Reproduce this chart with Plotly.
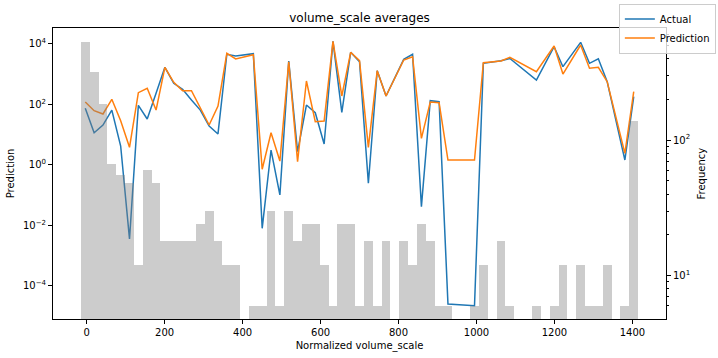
import plotly.graph_objects as go

# ---- data ----
bin_start = -15.0
bin_width = 22.694
hist_counts = [530, 321, 184, 67, 55, 48, 12, 60, 48, 18,
               18, 18, 18, 24, 30, 18, 12, 12, 0, 6,
               6, 30, 6, 30, 18, 24, 24, 12, 6, 24,
               24, 6, 18, 6, 18, 0, 18, 12, 24, 18,
               6, 6, 0, 0, 6, 12, 0, 18, 6, 0,
               0, 6, 0, 6, 12, 0, 12, 6, 6, 12,
               0, 6, 138]

line_x = [-3.7, 19.0, 41.7, 64.4, 87.1, 109.8, 132.5, 155.2, 177.9, 200.6,
          223.3, 246.0, 268.7, 291.4, 314.1, 336.8, 359.5, 382.2, 427.5, 450.2,
          472.9, 495.6, 518.3, 541.0, 563.7, 586.4, 609.1, 631.8, 654.5, 677.2,
          699.9, 722.6, 745.3, 768.0, 813.3, 836.0, 858.7, 881.4, 904.1, 926.8,
          994.9, 1017.6, 1063.0, 1085.7, 1153.7, 1199.1, 1221.8, 1267.2, 1289.9, 1312.6,
          1335.3, 1380.7, 1403.4]

actual = [73, 11.4, 20.5, 64, 4.15, 0.0035, 92, 32.4, 229, 1660,
          490, 309, 138, 64, 19, 10.4, 4470, 3920, 4680, 0.0079,
          3.06, 0.1, 2680, 2.69, 94, 52.4, 4.83, 12000, 54, 5200,
          2540, 0.243, 1280, 187, 3050, 4470, 0.041, 131, 121, 2.48e-5,
          2.18e-5, 2250, 2740, 3240, 631, 7960, 1740, 11100, 2250, 3190,
          555, 1.43, 177]

prediction = [118, 61, 47.4, 145, 28.5, 3.76, 240, 336, 64, 1660,
              530, 279, 279, 79, 20.5, 87, 4820, 3120, 4330, 0.705,
              11.4, 1.32, 2540, 1.26, 585, 26.4, 27.8, 12000, 187, 5200,
              2740, 3.76, 1280, 187, 2890, 3720, 7.46, 118, 112, 1.43,
              1.43, 2360, 2680, 3550, 1190, 8390, 995, 9060, 1540, 1660,
              555, 2.38, 259]

left_tickvals = [1e-4, 1e-2, 1, 1e2, 1e4]
left_ticktext = ["10<sup>\u22124</sup>", "10<sup>\u22122</sup>", "10<sup>0</sup>",
                 "10<sup>2</sup>", "10<sup>4</sup>"]
right_tickvals = [10, 100]
right_ticktext = ["10<sup>1</sup>", "10<sup>2</sup>"]
right_minor = [6, 7, 8, 9, 20, 30, 40, 50, 60, 70, 80, 90, 200, 300, 400, 500, 600]
x_tickvals = [0, 200, 400, 600, 800, 1000, 1200, 1400]

bin_centers = [bin_start + bin_width * (i + 0.5) for i in range(len(hist_counts))]

FONT = "DejaVu Sans"
W, H = 718, 358
ML, MR, MT, MB = 53, 52, 28, 39
PW = W - ML - MR

fig = go.Figure()
fig.add_trace(go.Scatter(x=line_x, y=actual, mode="lines", name="Actual",
                         line=dict(color="#1f77b4", width=1.5), yaxis="y"))
fig.add_trace(go.Scatter(x=line_x, y=prediction, mode="lines", name="Prediction",
                         line=dict(color="#ff7f0e", width=1.5), yaxis="y"))
fig.add_trace(go.Bar(x=bin_centers, y=hist_counts, width=bin_width,
                     marker=dict(color="rgba(128,128,128,0.4)", line=dict(width=0)),
                     showlegend=False, yaxis="y2", hoverinfo="skip"))

fig.update_layout(
    width=W, height=H,
    margin=dict(l=ML, r=MR, t=MT, b=MB, autoexpand=False),
    paper_bgcolor="white", plot_bgcolor="white",
    font=dict(family=FONT, size=10, color="black"),
    bargap=0,
    title=dict(text="volume_scale averages", x=0.5, xref="paper", xanchor="center",
               y=1 - 18 / H, yref="container", yanchor="middle",
               font=dict(size=12, family=FONT, color="black")),
    xaxis=dict(range=[-86.5, 1486.2], tickvals=x_tickvals, showgrid=False, zeroline=False,
               showline=True, linecolor="black", linewidth=1, mirror=True,
               ticks="outside", ticklen=4, tickcolor="black",
               title=dict(text="Normalized volume_scale", standoff=4,
                          font=dict(size=10, family=FONT))),
    yaxis=dict(type="log", range=[-5.10, 4.519], tickvals=left_tickvals, ticktext=left_ticktext,
               showgrid=False, zeroline=False, showline=True, linecolor="black", linewidth=1,
               mirror=True, ticks="outside", ticklen=4, tickcolor="black",
               title=dict(text="Prediction", standoff=6, font=dict(size=10, family=FONT))),
    yaxis2=dict(type="log", range=[0.68, 2.828], overlaying="y", side="right",
                tickvals=right_tickvals, ticktext=right_ticktext,
                showgrid=False, zeroline=False, showline=True, linecolor="black", linewidth=1,
                ticks="outside", ticklen=4, tickcolor="black",
                minor=dict(tickvals=right_minor, ticks="outside", ticklen=2, tickcolor="black")),
    legend=dict(xref="container", yref="container", x=0.997, y=0.99,
                xanchor="right", yanchor="top",
                bgcolor="rgba(255,255,255,0.8)", bordercolor="#cccccc", borderwidth=1,
                font=dict(size=10, family=FONT), itemwidth=30,
                tracegroupgap=0),
    annotations=[dict(text="Frequency", xref="paper", yref="paper",
                      x=1 + (701 - (W - MR)) / PW, y=0.5, textangle=-90,
                      showarrow=False, xanchor="center", yanchor="middle",
                      font=dict(size=10, family=FONT, color="black"))],
)

fig.write_html("out.html")
